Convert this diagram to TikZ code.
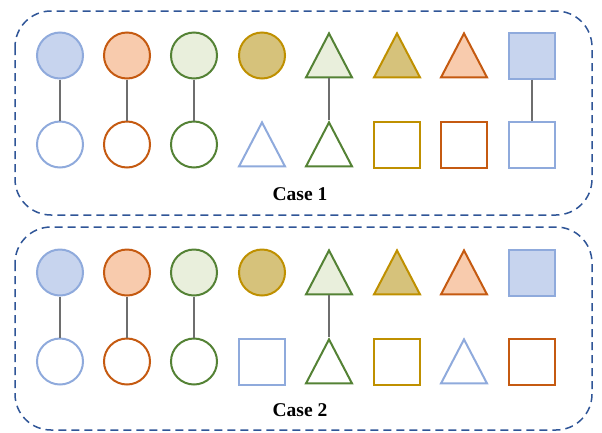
\documentclass[tikz,border=0pt]{standalone}
\usepackage{fontspec}
\setmainfont{Liberation Serif}
\usetikzlibrary{shapes.geometric, positioning}

\definecolor{blueline}{RGB}{143,170,220}
\definecolor{bluefill}{RGB}{199,212,238}
\definecolor{orangeline}{RGB}{197,90,17}
\definecolor{orangefill}{RGB}{248,203,173}
\definecolor{greenline}{RGB}{84,130,53}
\definecolor{greenfill}{RGB}{233,239,220}
\definecolor{goldline}{RGB}{191,144,0}
\definecolor{goldfill}{RGB}{214,194,123}
\definecolor{frameblue}{RGB}{47,85,151}
\definecolor{linkgray}{RGB}{110,110,110}

\tikzstyle{dot} = [circle, minimum size=46pt, inner sep=0pt, line width=2pt, draw]
\tikzstyle{box} = [rectangle, minimum size=46pt, inner sep=0pt, line width=2pt, draw]
\tikzstyle{tri} = [isosceles triangle, shape border rotate=90, isosceles triangle stretches, minimum height=44pt, minimum width=46pt, inner sep=0pt, line width=2pt, line join=miter, draw]
\tikzstyle{link} = [line width=2pt, draw=linkgray]
\tikzstyle{frame} = [line width=1.5pt, draw=frameblue, dash pattern=on 8pt off 5pt, rounded corners=36pt]
\tikzstyle{caption} = [font=\fontsize{19.5}{20}\selectfont\bfseries, anchor=base]

\begin{document}
\begin{tikzpicture}[x=1pt, y=-1pt, node distance=89pt]

	\useasboundingbox (0,0) rectangle (602,432);

	% case 1
	\draw [frame] (15,11) rectangle (592,215);

	\node (a1) [dot, draw=blueline, fill=bluefill] at (60,55.5) {};
	\node (a2) [dot, draw=orangeline, fill=orangefill] at (127,55.5) {};
	\node (a3) [dot, draw=greenline, fill=greenfill] at (194,55.5) {};
	\node (a4) [dot, draw=goldline, fill=goldfill] at (262,55.5) {};
	\node (a5) [tri, draw=greenline, fill=greenfill] at (329,63.5) {};
	\node (a6) [tri, draw=goldline, fill=goldfill] at (397,63.5) {};
	\node (a7) [tri, draw=orangeline, fill=orangefill] at (464,63.5) {};
	\node (a8) [box, draw=blueline, fill=bluefill] at (532,55.5) {};

	\node (b1) [dot, draw=blueline, below of=a1] {};
	\node (b2) [dot, draw=orangeline, below of=a2] {};
	\node (b3) [dot, draw=greenline, below of=a3] {};
	\node (b4) [tri, draw=blueline] at (262,152.5) {};
	\node (b5) [tri, draw=greenline, below of=a5] {};
	\node (b6) [box, draw=goldline] at (397,144.5) {};
	\node (b7) [box, draw=orangeline] at (464,144.5) {};
	\node (b8) [box, draw=blueline, below of=a8] {};

	\draw [link] (a1) -- (b1);
	\draw [link] (a2) -- (b2);
	\draw [link] (a3) -- (b3);
	\draw [link] (a5.lower side) -- (b5.apex);
	\draw [link] (a8) -- (b8);

	\node (case1) [caption] at (300,200) {Case 1};

	% case 2
	\draw [frame] (15,227) rectangle (592,430);

	\node (c1) [dot, draw=blueline, fill=bluefill] at (60,272.5) {};
	\node (c2) [dot, draw=orangeline, fill=orangefill] at (127,272.5) {};
	\node (c3) [dot, draw=greenline, fill=greenfill] at (194,272.5) {};
	\node (c4) [dot, draw=goldline, fill=goldfill] at (262,272.5) {};
	\node (c5) [tri, draw=greenline, fill=greenfill] at (329,280.5) {};
	\node (c6) [tri, draw=goldline, fill=goldfill] at (397,280.5) {};
	\node (c7) [tri, draw=orangeline, fill=orangefill] at (464,280.5) {};
	\node (c8) [box, draw=blueline, fill=bluefill] at (532,272.5) {};

	\node (d1) [dot, draw=blueline, below of=c1] {};
	\node (d2) [dot, draw=orangeline, below of=c2] {};
	\node (d3) [dot, draw=greenline, below of=c3] {};
	\node (d4) [box, draw=blueline, below of=c4] {};
	\node (d5) [tri, draw=greenline, below of=c5] {};
	\node (d6) [box, draw=goldline] at (397,361.5) {};
	\node (d7) [tri, draw=blueline, below of=c7] {};
	\node (d8) [box, draw=orangeline, below of=c8] {};

	\draw [link] (c1) -- (d1);
	\draw [link] (c2) -- (d2);
	\draw [link] (c3) -- (d3);
	\draw [link] (c5.lower side) -- (d5.apex);

	\node (case2) [caption] at (300,416) {Case 2};

\end{tikzpicture}
\end{document}
